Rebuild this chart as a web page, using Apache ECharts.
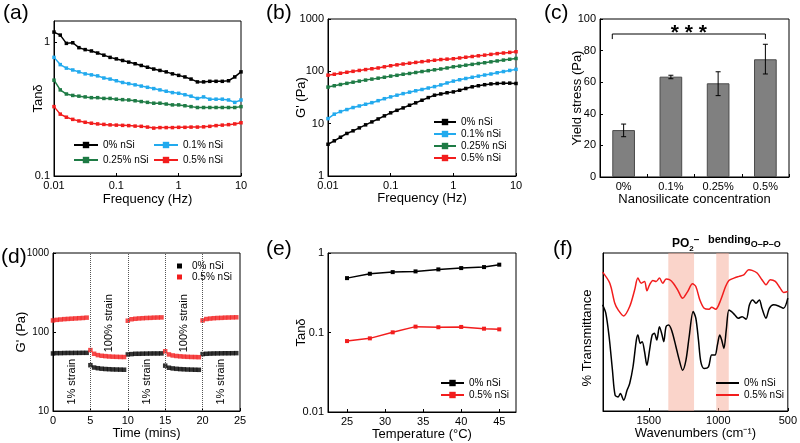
<!DOCTYPE html>
<html>
<head>
<meta charset="utf-8">
<script src="https://cdn.jsdelivr.net/npm/echarts@6/dist/echarts.min.js"></script>
<style>html,body{margin:0;padding:0;background:#fff}#chart{width:800px;height:443px}</style>
</head>
<body>
<div id="chart"></div>
<script>
// (a) / (b) frequency sweep
var freq = [0.01,0.0126,0.0158,0.02,0.0251,0.0316,0.0398,0.0501,0.0631,0.0794,0.1,0.126,0.158,0.2,0.251,0.316,0.398,0.501,0.631,0.794,1,1.26,1.58,2,2.51,3.16,3.98,5.01,6.31,7.94,10];
var tanA0 = [1.19,1.13,0.98,0.99,0.91,0.88,0.86,0.83,0.80,0.77,0.75,0.73,0.71,0.69,0.67,0.65,0.63,0.615,0.60,0.58,0.565,0.55,0.53,0.505,0.505,0.51,0.51,0.51,0.515,0.55,0.60];
var tanA1 = [0.77,0.68,0.64,0.62,0.60,0.58,0.57,0.56,0.54,0.53,0.515,0.50,0.49,0.48,0.47,0.46,0.45,0.44,0.43,0.42,0.415,0.405,0.395,0.38,0.39,0.375,0.375,0.375,0.37,0.355,0.37];
var tanA25 = [0.52,0.44,0.41,0.40,0.395,0.39,0.385,0.385,0.38,0.38,0.375,0.372,0.37,0.365,0.36,0.355,0.35,0.35,0.345,0.34,0.34,0.335,0.33,0.325,0.325,0.325,0.325,0.325,0.325,0.325,0.33];
var tanA5 = [0.33,0.29,0.275,0.265,0.258,0.252,0.248,0.245,0.243,0.241,0.24,0.239,0.238,0.236,0.235,0.232,0.228,0.23,0.23,0.23,0.231,0.231,0.232,0.232,0.233,0.235,0.238,0.24,0.242,0.245,0.25];
var gB0 = [4.04,4.7,5.5,6.5,7.3,8.3,9.5,10.8,12.3,14.1,16.1,18,20,22.5,25,28,31.5,35,37,39,40.5,43.5,47,50.6,53,55.5,57.5,58.6,59.5,59.5,58.6];
var gB1 = [12.5,15.2,17,18.6,20.3,21.8,23.5,25.2,27.5,30,32.5,35,37.5,40,42.5,45,48,51,55,60,65,69,73,77,81,85,89,94,99,104,109];
var gB25 = [50,53,56,59,62,65,68,71,74,77,81,84,88,91,95,99,103,107,111,116,122,126,131,136,141,146,152,158,164,170,176];
var gB5 = [84.5,88,92,96,100,104,108,112,116,122,128,133,138,143,148,153,158,163,168,171,174,180,186,192,198,204,211,218,224,230,237];

// (c) yield stress
var conc = ['0%','0.1%','0.25%','0.5%'];
var yieldVal = [29.7,63.5,59.3,74.5];
var yieldLo = [25.5,62.2,51.5,65.2];
var yieldHi = [33.5,64.4,66.6,84];

// (d) strain recovery
var time = [0,0.5,1,1.5,2,2.5,3,3.5,4,4.5,5,5.5,6,6.5,7,7.5,8,8.5,9,9.5,10,10.5,11,11.5,12,12.5,13,13.5,14,14.5,15,15.5,16,16.5,17,17.5,18,18.5,19,19.5,20,20.5,21,21.5,22,22.5,23,23.5,24,24.5];
var gD0 = [53.5,54,54,54.2,54.3,54.3,54.4,54.4,54.5,54.5,
           38,35.5,34.8,34.3,34,33.8,33.6,33.5,33.4,33.3,
           52,52.5,53,53,53.2,53.3,53.4,53.5,53.5,53.6,
           37.5,35.3,34.6,34.2,33.9,33.7,33.5,33.4,33.3,33.2,
           52.5,53,53.3,53.5,53.6,53.7,53.8,53.8,53.9,54];
var gD5 = [140,142.5,144,145.5,146.5,147.5,148.5,149.5,150.5,152,
           59,53,51,50,49.5,49,48.7,48.5,48.3,48.2,
           139,145,147,148.5,149.5,150.5,151,152,152.5,153,
           57,52,50.5,49.7,49.2,48.8,48.5,48.3,48.2,48,
           140,146,148,149.5,150.5,151,152,152.5,153,153.5];
var strainX = [2.5,7.5,12.5,17.5,22.5];
var strainY = [23.5,129,23.5,129,23.5];
var strainText = ['1% strain','100% strain','1% strain','100% strain','1% strain'];

// (e) temperature sweep
var temp = [25,28,31,34,37,40,43,45];
var tanE0 = [0.483,0.548,0.575,0.587,0.622,0.646,0.665,0.713];
var tanE5 = [0.078,0.0844,0.1005,0.1185,0.1165,0.1175,0.1117,0.1096];

// (f) FTIR
var wnF0 = [1833,1810,1786,1762,1743,1721,1705,1681,1657,1638,1614,1590,1579,1562,1548,1531,1514,1495,1476,1460,1443,1424,1405,1393,1376,1357,1333,1305,1281,1257,1233,1210,1181,1162,1143,1126,1102,1071,1048,1024,1007,990,976,960,943,924,905,881,857,829,800,776,752,729,705,686,657,633,602,567,531,500];
var trF0 = [67.2,61.9,47.0,25.8,10.0,8.9,11.0,6.8,13.1,17.4,28.0,44.9,48.1,42.8,43.9,37.5,29.0,38.6,48.1,49.2,44.9,53.4,48.1,43.9,53.4,54.4,50.2,40.7,32.2,25.8,32.2,47.0,62.9,58.7,44.9,31.1,26.9,28.0,35.4,35.4,41.7,48.1,44.9,39.6,51.3,64.0,62.9,60.8,58.7,59.7,58.1,67.2,70.3,68.2,70.3,65.0,58.7,65.0,67.2,66.5,65.0,71.4];
var wnF5 = [1833,1781,1745,1721,1681,1638,1602,1579,1555,1531,1514,1495,1471,1448,1424,1400,1376,1352,1324,1293,1257,1221,1186,1162,1133,1102,1067,1048,1019,983,948,924,888,852,817,781,757,721,686,657,626,590,555,531,500];
var trF5 = [87.9,80.9,68.2,64.0,60.2,66.1,76.7,84.1,80.9,82.0,76.1,79.9,82.6,82.0,84.1,80.9,83.5,83.1,80.9,76.7,71.4,75.6,80.5,78.8,70.3,65.0,64.4,65.7,64.4,70.3,78.8,82.6,84.1,85.2,86.2,89.4,89.0,87.3,83.1,79.9,83.1,82.0,77.8,75.0,75.6];
var bands = [[1360,1175],[1015,925]];

var FONT = 'Liberation Sans, Arial, sans-serif';
var C0 = '#000000', C1 = '#22aaee', C25 = '#1e7b45', C5 = '#f21d1d';

function zip(xs, ys) {
    var out = [];
    for (var i = 0; i < xs.length; i++) out.push([xs[i], ys[i]]);
    return out;
}

// plain number labels, no thousands separator
function plainNum(v) {
    return String(parseFloat(Number(v).toPrecision(6)));
}

function mkAxis(o) {
    var ax = {
        gridIndex: o.grid,
        type: o.type || 'value',
        name: o.name || '',
        nameLocation: 'middle',
        nameGap: o.nameGap || 15,
        nameMoveOverlap: false,
        nameTextStyle: {color: '#000', fontSize: 13, fontFamily: FONT, padding: o.namePad || 0},
        axisLine: {show: true, onZero: false, lineStyle: {color: '#000', width: 1}},
        axisTick: {show: o.tick !== false, inside: true, length: 3, lineStyle: {color: '#000'}},
        axisLabel: {show: o.label !== false, color: '#000', fontSize: o.labelSize || 11, margin: 4, fontFamily: FONT},
        splitLine: {show: false}
    };
    if (ax.type !== 'category') ax.axisLabel.formatter = plainNum;
    if (o.min !== undefined) ax.min = o.min;
    if (o.max !== undefined) ax.max = o.max;
    if (o.interval !== undefined) ax.interval = o.interval;
    if (o.data) ax.data = o.data;
    if (o.inverse) ax.inverse = true;
    if (o.custom) {
        ax.axisLabel.customValues = o.custom;
        ax.axisTick.customValues = o.custom;
    }
    if (o.hideMax) ax.axisLabel.showMaxLabel = false;
    return ax;
}

function lineSeries(name, xi, data, color, size) {
    return {
        type: 'line', name: name, xAxisIndex: xi, yAxisIndex: xi, data: data,
        symbol: 'rect', symbolSize: size, showSymbol: true,
        lineStyle: {color: color, width: 1.5}, itemStyle: {color: color}
    };
}

var myChart = echarts.init(document.getElementById('chart'));

var gridBox = {show: true, borderColor: '#000', borderWidth: 1, backgroundColor: 'transparent'};
var grids = [
    [54, 21, 187, 155],
    [328, 19, 188, 157],
    [600, 19, 189, 158],
    [53, 253, 187, 158],
    [328, 253, 188, 159],
    [603, 253, 187, 158]
].map(function (g) {
    return Object.assign({left: g[0], top: g[1], width: g[2], height: g[3], containLabel: false}, gridBox);
});

var panelLabels = [['(a)', 3, 3], ['(b)', 266, 3], ['(c)', 544, 3], ['(d)', 1, 247], ['(e)', 266, 239], ['(f)', 553, 239]];

var legendText = {color: '#000', fontSize: 10, fontFamily: FONT};

var option = {
    animation: false,
    textStyle: {fontFamily: FONT},
    title: panelLabels.map(function (p) {
        return {text: p[0], left: p[1], top: p[2], padding: 0,
            textStyle: {fontSize: 21, fontWeight: 'normal', color: '#000', fontFamily: FONT}};
    }),
    grid: grids,
    xAxis: [
        mkAxis({grid: 0, type: 'log', min: 0.01, max: 10, name: 'Frequency (Hz)', nameGap: 17}),
        mkAxis({grid: 1, type: 'log', min: 0.01, max: 10, name: 'Frequency (Hz)', nameGap: 16}),
        mkAxis({grid: 2, type: 'category', data: conc, name: 'Nanosilicate concentration', nameGap: 16}),
        mkAxis({grid: 3, min: 0, max: 25, interval: 5, name: 'Time (mins)', nameGap: 16}),
        mkAxis({grid: 4, min: 22.5, max: 47.2, custom: [25, 30, 35, 40, 45], name: 'Temperature (°C)', nameGap: 16}),
        mkAxis({grid: 5, min: 500, max: 1830, inverse: true, custom: [500, 1000, 1500], name: 'Wavenumbers (cm⁻¹)', nameGap: 16})
    ],
    yAxis: [
        mkAxis({grid: 0, type: 'log', min: 0.1, max: 1.44, hideMax: true, name: 'Tanδ', nameGap: 9}),
        mkAxis({grid: 1, type: 'log', min: 1, max: 1000, name: "G' (Pa)", nameGap: 20}),
        mkAxis({grid: 2, min: 0, max: 100, interval: 20, name: 'Yield stress (Pa)', nameGap: 16}),
        mkAxis({grid: 3, type: 'log', min: 10, max: 1000, labelSize: 10, name: "G' (Pa)", nameGap: 25}),
        mkAxis({grid: 4, type: 'log', min: 0.01, max: 1, name: 'Tanδ', nameGap: 20}),
        mkAxis({grid: 5, min: 0, max: 100, tick: false, label: false, name: '% Transmittance', nameGap: 9, namePad: [0, 12, 0, 0]})
    ],
    legend: [
        {orient: 'vertical', left: 73, top: 140, itemGap: 5, itemWidth: 24, itemHeight: 8, padding: 0,
            textStyle: legendText, data: ['0% nSi', '0.25% nSi']},
        {orient: 'vertical', left: 153, top: 140, itemGap: 5, itemWidth: 24, itemHeight: 8, padding: 0,
            textStyle: legendText, data: ['0.1% nSi', '0.5% nSi']},
        {orient: 'vertical', left: 433, top: 117, itemGap: 2, itemWidth: 22, itemHeight: 8, padding: 0,
            textStyle: legendText, data: ['0% nSi', '0.1% nSi', '0.25% nSi', '0.5% nSi']},
        {orient: 'vertical', left: 177, top: 261, itemGap: 1, itemWidth: 5, itemHeight: 5, padding: 0,
            textStyle: {color: '#000', fontSize: 10, fontFamily: FONT, padding: [0, 0, 0, 5]},
            data: [{name: '0% nSi', icon: 'rect'}, {name: '0.5% nSi', icon: 'rect'}]},
        {orient: 'vertical', left: 440, top: 378, itemGap: 2, itemWidth: 23, itemHeight: 8, padding: 0,
            textStyle: legendText, data: ['0% nSi', '0.5% nSi']},
        {orient: 'vertical', left: 716, top: 378, itemGap: 2, itemWidth: 23, itemHeight: 2, padding: 0,
            textStyle: legendText, data: [{name: '0% nSi', icon: 'rect'}, {name: '0.5% nSi', icon: 'rect'}]}
    ],
    graphic: [
        {type: 'text', left: 672, top: 235, z: 100, style: {
            text: '{m|PO}{s|2}{p|−}', fontFamily: FONT,
            rich: {
                m: {fontSize: 12, fontWeight: 'bold', fill: '#000', lineHeight: 18, verticalAlign: 'middle', fontFamily: FONT},
                s: {fontSize: 8, fontWeight: 'bold', fill: '#000', lineHeight: 18, verticalAlign: 'bottom', fontFamily: FONT},
                p: {fontSize: 10, fontWeight: 'bold', fill: '#000', lineHeight: 18, verticalAlign: 'top', fontFamily: FONT}
            }}},
        {type: 'text', left: 708, top: 234, z: 100, style: {
            text: '{m|bending}{s|O–P–O}', fontFamily: FONT,
            rich: {
                m: {fontSize: 11, fontWeight: 'bold', fill: '#000', lineHeight: 20, verticalAlign: 'middle', fontFamily: FONT},
                s: {fontSize: 9, fontWeight: 'bold', fill: '#000', lineHeight: 20, verticalAlign: 'bottom', fontFamily: FONT}
            }}}
    ],
    series: [
        // (a)
        lineSeries('0% nSi', 0, zip(freq, tanA0), C0, 3.5),
        lineSeries('0.1% nSi', 0, zip(freq, tanA1), C1, 3.5),
        lineSeries('0.25% nSi', 0, zip(freq, tanA25), C25, 3.5),
        lineSeries('0.5% nSi', 0, zip(freq, tanA5), C5, 3.5),
        // (b)
        lineSeries('0% nSi', 1, zip(freq, gB0), C0, 3.5),
        lineSeries('0.1% nSi', 1, zip(freq, gB1), C1, 3.5),
        lineSeries('0.25% nSi', 1, zip(freq, gB25), C25, 3.5),
        lineSeries('0.5% nSi', 1, zip(freq, gB5), C5, 3.5),
        // (c)
        {type: 'bar', xAxisIndex: 2, yAxisIndex: 2, data: yieldVal, barWidth: '48%',
            itemStyle: {color: '#808080', borderColor: '#4a4a4a', borderWidth: 1}},
        {type: 'custom', xAxisIndex: 2, yAxisIndex: 2, z: 5,
            data: conc.map(function (c, i) { return [i, yieldLo[i], yieldHi[i]]; }),
            encode: {x: 0, y: [1, 2]},
            renderItem: function (params, api) {
                var c = api.value(0);
                var lo = api.coord([c, api.value(1)]);
                var hi = api.coord([c, api.value(2)]);
                var st = {stroke: '#000', lineWidth: 1};
                return {type: 'group', children: [
                    {type: 'line', shape: {x1: lo[0], y1: lo[1], x2: hi[0], y2: hi[1]}, style: st},
                    {type: 'line', shape: {x1: lo[0] - 2.5, y1: lo[1], x2: lo[0] + 2.5, y2: lo[1]}, style: st},
                    {type: 'line', shape: {x1: hi[0] - 2.5, y1: hi[1], x2: hi[0] + 2.5, y2: hi[1]}, style: st}
                ]};
            }},
        {type: 'custom', xAxisIndex: 2, yAxisIndex: 2, z: 5,
            data: [[0, 3, 87.3, 90.5, 91]],
            encode: {x: 0, y: 3},
            renderItem: function (params, api) {
                var p0 = api.coord([api.value(0), api.value(3)]);
                var p1 = api.coord([api.value(1), api.value(3)]);
                var bw = api.size([1, 0])[0];
                var lx = p0[0] - bw * 0.24, rx = p1[0];
                var ylow = api.coord([0, api.value(2)])[1];
                var ys = api.coord([0, api.value(4)])[1];
                return {type: 'group', children: [
                    {type: 'polyline', shape: {points: [[lx, ylow], [lx, p0[1]], [rx, p0[1]], [rx, ylow]]},
                        style: {stroke: '#000', lineWidth: 1, fill: null}},
                    {type: 'text', x: (lx + rx) / 2, y: ys,
                        style: {text: '* * *', fontSize: 21, fontWeight: 'bold', fill: '#000',
                            align: 'center', verticalAlign: 'middle', fontFamily: FONT}}
                ]};
            }},
        // (d)
        {type: 'scatter', name: '0% nSi', xAxisIndex: 3, yAxisIndex: 3, data: zip(time, gD0),
            symbol: 'rect', symbolSize: 4.5, itemStyle: {color: C0},
            markLine: {silent: true, symbol: 'none', label: {show: false},
                lineStyle: {type: 'dotted', color: '#555', width: 1},
                data: [{xAxis: 5}, {xAxis: 10}, {xAxis: 15}, {xAxis: 20}]}},
        {type: 'scatter', name: '0.5% nSi', xAxisIndex: 3, yAxisIndex: 3, data: zip(time, gD5),
            symbol: 'rect', symbolSize: 4.5, itemStyle: {color: C5}},
        {type: 'custom', xAxisIndex: 3, yAxisIndex: 3, z: 5,
            data: zip(strainX, strainY),
            renderItem: function (params, api) {
                var p = api.coord([api.value(0), api.value(1)]);
                return {type: 'text', x: p[0], y: p[1], rotation: Math.PI / 2,
                    style: {text: strainText[params.dataIndex], fontSize: 11, fill: '#000',
                        align: 'center', verticalAlign: 'middle', fontFamily: FONT}};
            }},
        // (e)
        lineSeries('0% nSi', 4, zip(temp, tanE0), C0, 4),
        lineSeries('0.5% nSi', 4, zip(temp, tanE5), C5, 4),
        // (f)
        {type: 'line', name: '0% nSi', xAxisIndex: 5, yAxisIndex: 5, data: zip(wnF0, trF0),
            symbol: 'none', smooth: 0.3, lineStyle: {color: C0, width: 1.5}, itemStyle: {color: C0}},
        {type: 'line', name: '0.5% nSi', xAxisIndex: 5, yAxisIndex: 5, data: zip(wnF5, trF5),
            symbol: 'none', smooth: 0.3, lineStyle: {color: C5, width: 1.5}, itemStyle: {color: C5}},
        {type: 'line', xAxisIndex: 5, yAxisIndex: 5, data: [], z: 4,
            markArea: {silent: true, itemStyle: {color: 'rgba(245,170,150,0.5)'},
                data: bands.map(function (b) { return [{xAxis: b[0]}, {xAxis: b[1]}]; })}}
    ]
};

myChart.setOption(option);
</script>
</body>
</html>
